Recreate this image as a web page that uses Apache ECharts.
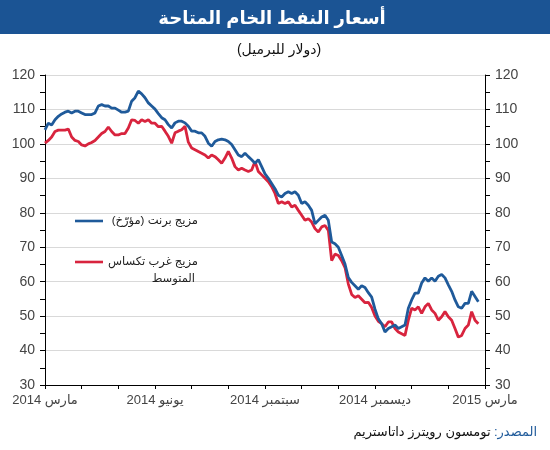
<!DOCTYPE html>
<html>
<head>
<meta charset="utf-8">
<script src="https://cdn.jsdelivr.net/npm/echarts@6/dist/echarts.min.js"></script>
<style>
  html, body { margin: 0; padding: 0; background: #fff; }
  #main { width: 550px; height: 450px; }
</style>
</head>
<body>
<div id="main"></div>
<script>
// x unit = one sample step, 11 steps per month, axis runs end of Mar 2014 -> end of Mar 2015
const stepsPerMonth = 11;
const xLabels = ['مارس 2014', 'يونيو 2014', 'سبتمبر 2014', 'ديسمبر 2014', 'مارس 2015'];
const yTicks = [30, 40, 50, 60, 70, 80, 90, 100, 110, 120];

// Brent (dated), USD per barrel
const brent = [
  104.1, 106, 105.5, 107, 108, 108.7, 109.2, 109.5, 109, 109.5,
  109.5, 109, 108.5, 108.5, 108.5, 109, 111, 111.4, 111, 111,
  110.4, 110.4, 109.8, 109.2, 109.2, 109.5, 112.4, 113.4, 115.3, 114.5,
  113.4, 111.9, 111, 110.1, 108.8, 107.6, 107, 105.6, 104.6, 106.1,
  106.6, 106.6, 106.1, 105.1, 103.7, 103.7, 103.2, 103.2, 102.2, 100.2,
  99.3, 100.7, 101.2, 101.4, 101.2, 100.7, 99.8, 98.3, 96.8, 96.3,
  97.3, 96.3, 95.4, 94.4, 95.4, 93.4, 91.3, 90, 88.5, 87,
  85.1, 84.6, 85.6, 86.1, 85.6, 86.1, 85.1, 82.7, 83.2, 82.2,
  80.7, 76.8, 77.8, 78.8, 79.3, 77.8, 71.5, 71, 70, 67.6,
  65.1, 61.2, 59.8, 58.8, 57.8, 58.8, 58.3, 56.8, 55.5, 52,
  49.2, 47.8, 45.4, 46.4, 46.9, 47.4, 46.4, 46.9, 47.4, 52.3,
  54.7, 56.7, 56.7, 59.6, 61.1, 60.1, 61.1, 60.1, 61.6, 62.1,
  61.1, 59.1, 57.2, 54.7, 52.7, 52.3, 53.7, 53.7, 57.2, 55.7,
  54.2
];

// WTI
const wti = [
  100.2, 101, 102, 103.6, 104, 104, 104, 104.3, 102, 101,
  100.7, 99.7, 99.4, 100, 100.4, 101, 102, 103, 103.6, 104.9,
  103.6, 102.6, 102.6, 103, 103, 104.6, 107, 106.8, 106, 107,
  106.5, 107, 106, 106, 105, 105.1, 103.7, 102.2, 100.2, 103.2,
  103.7, 104.1, 105.1, 100.5, 98.8, 98.3, 97.8, 97.3, 96.8, 95.9,
  96.8, 96.3, 95.4, 94.4, 95.9, 97.8, 95.9, 93.4, 92.4, 92.9,
  92.4, 92, 92.4, 94.9, 92, 91, 90, 89, 87.6, 85.6,
  82.7, 83.2, 82.7, 83.2, 81.7, 82.2, 80.7, 79.3, 77.8, 78.3,
  77.3, 75.4, 74.4, 75.9, 76.3, 74.9, 66.1, 68, 67.6, 66.1,
  64.1, 59.3, 56.3, 55.4, 55.9, 54.9, 53.9, 54, 52.5, 50,
  48.5, 47.8, 46.9, 48.3, 48.3, 46.4, 45.4, 44.9, 44.4, 48.8,
  52.3, 51.8, 52.7, 50.8, 52.7, 53.7, 51.8, 50.8, 48.8, 49.8,
  51.3, 49.8, 48.8, 46.4, 43.9, 44.4, 46.4, 47.4, 51.3, 48.8,
  47.8
];

const BLUE = '#1f5a9a';
const RED = '#d8243e';
const FONT = 'Liberation Sans, Arial, DejaVu Sans, sans-serif';

const chart = echarts.init(document.getElementById('main'));

const yAxisBase = {
  type: 'value',
  min: yTicks[0],
  max: yTicks[yTicks.length - 1],
  interval: 10,
  axisLine: { show: true, lineStyle: { color: '#000', width: 1 } },
  axisTick: { show: true, length: 5, lineStyle: { color: '#000' } },
  minorTick: { show: true, splitNumber: 2, length: 5, lineStyle: { color: '#000' } },
  axisLabel: { color: '#444', fontSize: 14, fontFamily: FONT, margin: 10 }
};

chart.setOption({
  backgroundColor: '#fff',
  animation: false,
  textStyle: { fontFamily: FONT },
  title: [
    {
      text: 'أسعار النفط الخام المتاحة',
      left: 267, top: 5, textAlign: 'center',
      textStyle: { color: '#fff', fontSize: 18, fontWeight: 'bold', fontFamily: FONT }
    },
    {
      text: '\u200F(دولار للبرميل)\u200F',
      left: 274, top: 38, textAlign: 'center',
      textStyle: { color: '#111', fontSize: 14, fontWeight: 'normal', fontFamily: FONT }
    }
  ],
  graphic: [
    { type: 'rect', left: 0, top: 0, z: -1, shape: { width: 550, height: 34 }, style: { fill: '#1b5494' } },
    // legend
    { type: 'line', shape: { x1: 75, y1: 221, x2: 103, y2: 221 }, style: { stroke: BLUE, lineWidth: 2.6 }, z: 10 },
    { type: 'text', x: 198, y: 221, z: 10,
      style: { text: 'مزيج برنت (مؤرّخ)\u200F', align: 'right', verticalAlign: 'middle', fill: '#222', font: '11.5px ' + FONT } },
    { type: 'line', shape: { x1: 75, y1: 262, x2: 103, y2: 262 }, style: { stroke: RED, lineWidth: 2.6 }, z: 10 },
    { type: 'text', x: 198, y: 262, z: 10,
      style: { text: 'مزيج غرب تكساس', align: 'right', verticalAlign: 'middle', fill: '#222', font: '11.5px ' + FONT } },
    { type: 'text', x: 195, y: 279, z: 10,
      style: { text: 'المتوسط', align: 'right', verticalAlign: 'middle', fill: '#222', font: '11.5px ' + FONT } },
    // source
    { type: 'text', x: 537, y: 432,
      style: {
        text: '{b|تومسون رويترز داتاستريم} {a|المصدر:\u200F}',
        align: 'right', verticalAlign: 'middle',
        rich: {
          a: { fill: '#1f5a9a', font: '13px ' + FONT },
          b: { fill: '#111', font: '13px ' + FONT }
        }
      } }
  ],
  grid: { left: 45, right: 65, top: 75, bottom: 65 },
  xAxis: {
    type: 'value',
    min: 0,
    max: stepsPerMonth * 12,
    interval: stepsPerMonth,
    splitLine: { show: false },
    axisLine: { show: true, lineStyle: { color: '#000', width: 1 } },
    axisTick: { show: true, length: 4, lineStyle: { color: '#000' } },
    axisLabel: {
      color: '#444', fontSize: 13, fontFamily: FONT, margin: 9,
      showMinLabel: true, showMaxLabel: true,
      formatter: function (v) {
        const q = v / (stepsPerMonth * 3);
        return Number.isInteger(q) ? xLabels[q] : '';
      }
    }
  },
  yAxis: [
    Object.assign({}, yAxisBase, {
      position: 'left',
      splitLine: { show: true, lineStyle: { color: '#d9d9d9', width: 1 } }
    }),
    Object.assign({}, yAxisBase, {
      position: 'right',
      splitLine: { show: false }
    })
  ],
  series: [
    {
      name: 'مزيج برنت (مؤرّخ)',
      type: 'line',
      data: brent.map((v, i) => [i, v]),
      showSymbol: false,
      lineStyle: { color: BLUE, width: 2.8 },
      itemStyle: { color: BLUE },
      z: 3
    },
    {
      name: 'مزيج غرب تكساس المتوسط',
      type: 'line',
      data: wti.map((v, i) => [i, v]),
      showSymbol: false,
      lineStyle: { color: RED, width: 2.8 },
      itemStyle: { color: RED },
      z: 2
    }
  ]
});
</script>
</body>
</html>
